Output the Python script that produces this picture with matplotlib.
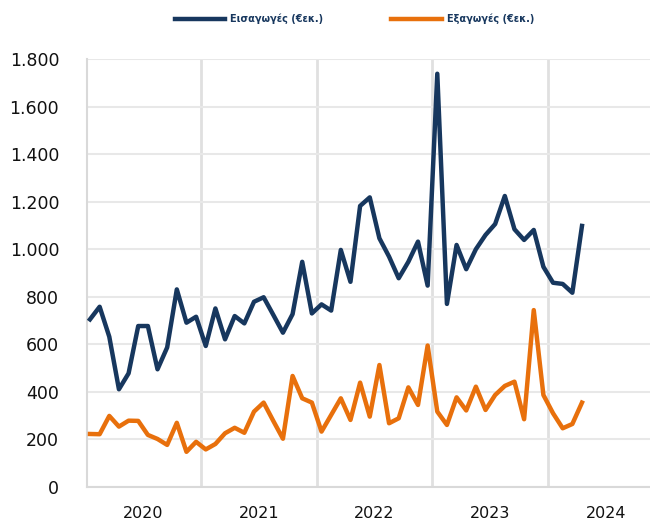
import matplotlib
matplotlib.use("Agg")
import matplotlib.pyplot as plt
import numpy as np

plt.rcParams['font.family'] = ['DejaVu Sans']

# Monthly data Jan 2020 - Apr 2024
imports = [705, 758, 632, 411, 478, 677, 677, 495, 587, 831, 691, 716,
           593, 751, 621, 719, 688, 779, 798, 724, 649, 727, 947, 730,
           768, 742, 997, 863, 1182, 1218, 1046, 969, 878, 947, 1032, 847,
           1738, 770, 1018, 916, 1000, 1060, 1106, 1224, 1084, 1039, 1081, 926,
           859, 854, 817, 1098]
exports = [223, 222, 299, 254, 279, 278, 219, 202, 177, 270, 148, 190,
           158, 181, 226, 249, 228, 317, 355, 278, 203, 467, 373, 355,
           233, 303, 373, 282, 439, 296, 513, 268, 289, 419, 345, 595,
           317, 261, 377, 322, 422, 324, 387, 425, 443, 285, 744, 387,
           310, 247, 265, 355]
years = ["2020", "2021", "2022", "2023", "2024"]
yticks = [0, 200, 400, 600, 800, 1000, 1200, 1400, 1600, 1800]
labels = ["Εισαγωγές (€εκ.)", "Εξαγωγές (€εκ.)"]

navy = "#17375E"
orange = "#E8700C"

fig = plt.figure(figsize=(6.5, 5.2), dpi=100)
ax = fig.add_axes([87/650, 1 - 487/520, 1 - 87/650, (487 - 59)/520])

x = np.arange(len(imports))
ax.plot(x, imports, color=navy, lw=3.2, solid_joinstyle='round', label=labels[0], zorder=3)
ax.plot(x, exports, color=orange, lw=3.2, solid_joinstyle='round', label=labels[1], zorder=3)

ax.set_ylim(0, 1800)
ax.set_xlim(-0.31, 58.05)
ax.set_yticks(yticks)
ax.set_yticklabels([f"{v:,}".replace(",", ".") for v in yticks])

bounds = [12 * i - 0.5 for i in range(1, len(years))]
ax.set_xticks(bounds)
ax.set_xticklabels([])
ax.set_xticks([12 * i + 5.5 for i in range(len(years))], minor=True)
ax.set_xticklabels(years, minor=True)

ax.tick_params(axis='both', which='both', length=0)
ax.tick_params(axis='y', labelsize=12.5, pad=20, colors='#111111')
ax.tick_params(axis='x', which='minor', labelsize=11.5, pad=14, colors='#111111')

ax.grid(axis='y', color='#e8e8e8', lw=1.5, zorder=0)
ax.grid(axis='x', which='major', color='#e0e0e0', lw=2, zorder=0)
for s in ['top', 'right']:
    ax.spines[s].set_visible(False)
for s in ['left', 'bottom']:
    ax.spines[s].set_color('#d9d9d9')
    ax.spines[s].set_linewidth(1.5)

leg = fig.legend(loc='center', bbox_to_anchor=(0.545, 1 - 19/520), ncol=2, frameon=False,
                 prop={'size': 7, 'weight': 'bold'}, handlelength=5.2, handletextpad=0.5,
                 columnspacing=7.0)
for t in leg.get_texts():
    t.set_color(navy)

fig.savefig("out.png", dpi=100)
